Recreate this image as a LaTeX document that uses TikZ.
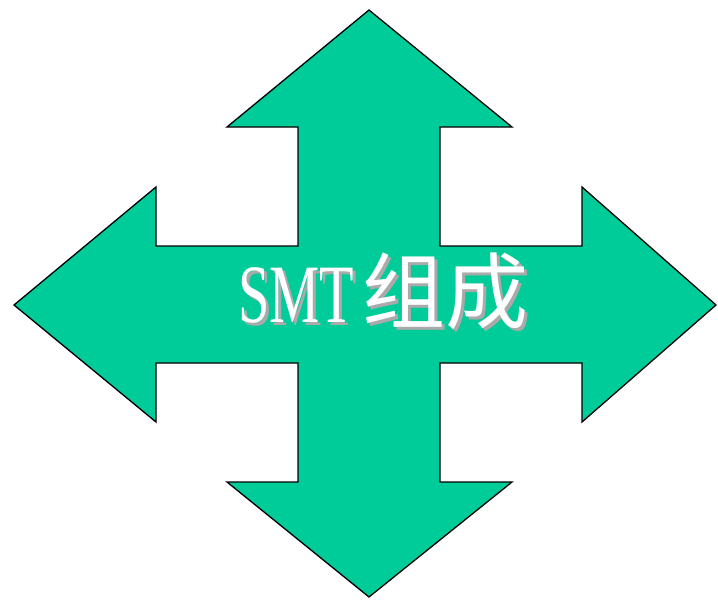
\documentclass[tikz,border=0pt]{standalone}
\usepackage{fontspec}
\setmainfont{Liberation Serif}
\newfontfamily\smtfont{Liberation Serif}[FakeStretch=0.68]
\newfontfamily\cjk{Noto Sans CJK SC}
\definecolor{arrowgreen}{RGB}{0,204,153}
\definecolor{shadowgray}{RGB}{170,170,170}
\tikzset{
  arrowshape/.style={fill=arrowgreen, draw=black, line width=1.3pt, line join=miter},
  label/.style={inner sep=0pt, anchor=base west, font=\fontsize{83}{83}\selectfont},
}
\newcommand{\smtlabel}{{\smtfont SMT}\hspace{8pt}{\cjk 组成}}
\newcommand{\shadowed}[1]{\makebox[0pt][l]{\hspace{3pt}\raisebox{-3pt}{\textcolor{shadowgray}{#1}}}\textcolor{white}{#1}}
\begin{document}
\begin{tikzpicture}[x=1pt,y=-1pt]
\useasboundingbox (0,0) rectangle (718,600);
\draw[arrowshape] (369,10) -- (512,127) -- (440,127) -- (440,246) -- (582,246) -- (582,187)
  -- (716,305) -- (582,422) -- (582,363) -- (440,363) -- (440,482) -- (512,482)
  -- (369,597) -- (227,482) -- (298,482) -- (298,363) -- (156,363) -- (156,422)
  -- (14,305) -- (156,187) -- (156,246) -- (298,246) -- (298,127) -- (227,127) -- cycle;
\node[label] (title) at (238,322) {\shadowed{\smtlabel}};
\end{tikzpicture}
\end{document}
